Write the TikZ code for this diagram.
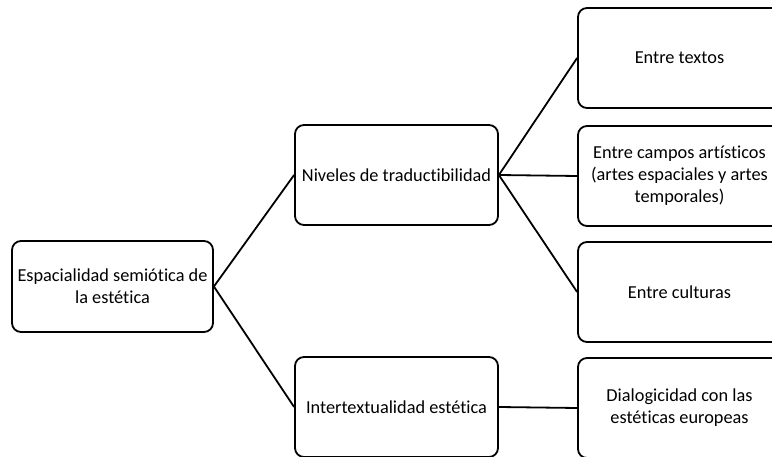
\documentclass[tikz,border=0pt]{standalone}
\usepackage{fontspec}
\setmainfont[RawFeature={-liga}]{Carlito}
\usetikzlibrary{positioning}

\begin{document}
\begin{tikzpicture}[x=1pt, y=-1pt]
        \tikzstyle{box}=[draw, line width=1.8pt, rounded corners=9pt, align=center, inner sep=2pt,
            minimum width=203pt, minimum height=100pt, font=\fontsize{18.3}{22}\selectfont]
        \tikzstyle{link}=[line width=1.8pt]

        % Page frame
        \useasboundingbox (0,0) rectangle (772,457);
        \clip (0,0) rectangle (772,457);

        % Root
        \node[box, minimum width=201pt, minimum height=91pt] (root) at (112.5,286.5) {Espacialidad semiótica de\\la estética};

        % Second level
        \node[box] (niveles) at (396.5,175) {Niveles de traductibilidad};
        \node[box] (inter) at (396.5,407) {Intertextualidad estética};

        % Third level
        \node[box] (textos) at (679.5,58) {Entre textos};
        \node[box] (campos) at (679.5,176) {Entre campos artísticos\\(artes espaciales y artes\\temporales)};
        \node[box] (culturas) at (679.5,292) {Entre culturas};
        \node[box] (dialog) at (679.5,408) {Dialogicidad con las\\estéticas europeas};

        % Connectors
        \draw[link] (root.east) -- (niveles.west);
        \draw[link] (root.east) -- (inter.west);
        \draw[link] (niveles.east) -- (textos.west);
        \draw[link] (niveles.east) -- (campos.west);
        \draw[link] (niveles.east) -- (culturas.west);
        \draw[link] (inter.east) -- (dialog.west);
    \end{tikzpicture}
\end{document}
